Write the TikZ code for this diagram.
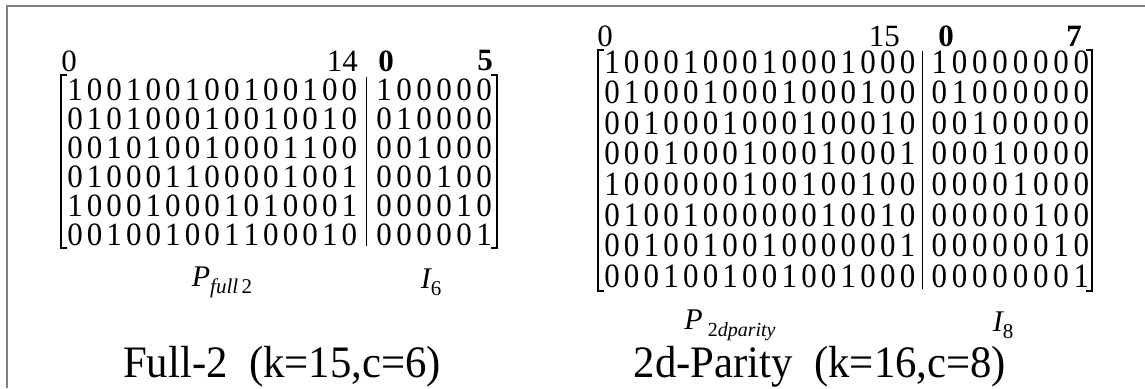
\documentclass[tikz,border=0pt]{standalone}
\usepackage{fontspec}
\setmainfont{Liberation Serif}
\usepackage{graphicx}
\definecolor{frm}{RGB}{128,128,128}
\newlength\dw
\def\dg#1{\ifx\relax#1\else\makebox[\dw]{#1}\expandafter\dg\fi}
\newcommand\drow[2]{\dw=#1pt\expandafter\dg#2\relax}
\newcommand\mfont{\fontsize{31}{31}\selectfont}
\begin{document}
\begin{tikzpicture}[x=1pt,y=-1pt,
  rowL/.style={inner sep=0pt,anchor=west,font=\mfont},
  lbl/.style={inner sep=0pt,font=\mfont},
  brk/.style={line width=1.8pt},
  sep/.style={line width=1pt},
  ttl/.style={inner sep=0pt,anchor=base,font=\fontsize{45}{45}\selectfont},
  sub/.style={inner sep=0pt,font=\fontsize{30}{30}\selectfont\itshape}]
\useasboundingbox (0,0) rectangle (1145,388);
\draw[frm,line width=2pt] (7,388) -- (7,6) -- (1145,6);
% ---------- left matrix ----------
\node[lbl] (la0) at (69,61) {0};
\node[lbl,anchor=east] (la14) at (358,61) {14};
\node[lbl] (lb0) at (386,61) {\bfseries 0};
\node[lbl] (lb5) at (485,61) {\bfseries 5};
\foreach \p/\q [count=\i from 0] in {
  100100100100100/100000,
  010100010010010/010000,
  001010010001100/001000,
  010001100001001/000100,
  100010001010001/000010,
  001001001100010/000001}{
  \node[rowL] (lp\i) at (65,90+29*\i) {\scalebox{1}[1.05]{\drow{19.6}{\p}}};
  \node[rowL] (li\i) at (374,90+29*\i) {\scalebox{1}[1.05]{\drow{20}{\q}}};
}
\draw[brk] (67,75) -- (61,75) -- (61,248) -- (67,248);
\draw[brk] (491,75) -- (497,75) -- (497,248) -- (491,248);
\draw[sep] (366,77) -- (366,246);
\node[sub] (pl) at (222,282) {P\raisebox{-7pt}{\fontsize{21}{21}\selectfont full\,\upshape 2}};
\node[sub] (il) at (431,282) {I\raisebox{-7pt}{\fontsize{21}{21}\selectfont\upshape 6}};
\node[ttl] (tl) at (282,377) {\scalebox{0.95}[1]{Full-2\ \ (k=15,c=6)}};
% ---------- right matrix ----------
\node[lbl] (ra0) at (605,36) {0};
\node[lbl,anchor=east] (ra15) at (900,36) {15};
\node[lbl] (rb0) at (946,36) {\bfseries 0};
\node[lbl] (rb7) at (1074,36) {\bfseries 7};
\foreach \p/\q [count=\i from 0] in {
  1000100010001000/10000000,
  0100010001000100/01000000,
  0010001000100010/00100000,
  0001000100010001/00010000,
  1000000100100100/00001000,
  0100100000010010/00000100,
  0010010010000001/00000010,
  0001001001001000/00000001}{
  \node[rowL] (rp\i) at (602,62+30.6*\i) {\scalebox{1}[1.1]{\drow{19.7}{\p}}};
  \node[rowL] (ri\i) at (929,62+30.6*\i) {\scalebox{1}[1.1]{\drow{20.3}{\q}}};
}
\draw[brk] (604,50) -- (598,50) -- (598,291) -- (604,291);
\draw[brk] (1086,50) -- (1092,50) -- (1092,291) -- (1086,291);
\draw[sep] (922,51) -- (922,289);
\node[sub] (pr) at (730,325) {P\,\raisebox{-7pt}{\fontsize{20}{20}\selectfont\upshape 2\itshape dparity}};
\node[sub] (ir) at (1003,325) {I\raisebox{-7pt}{\fontsize{21}{21}\selectfont\upshape 8}};
\node[ttl] (tr) at (820,377) {\scalebox{0.95}[1]{2d-Parity\ \ (k=16,c=8)}};
\end{tikzpicture}
\end{document}
